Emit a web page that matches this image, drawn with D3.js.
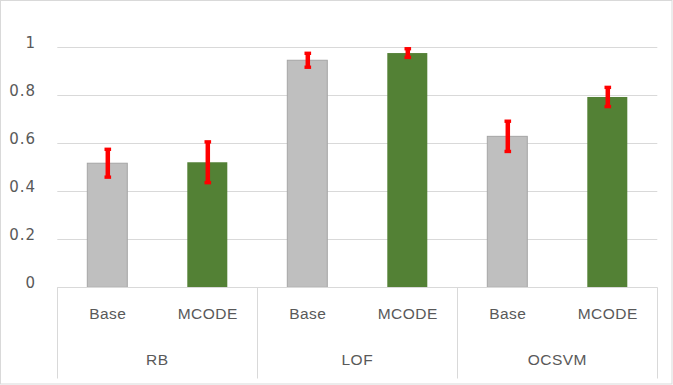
<!DOCTYPE html>
<html>
<head>
<meta charset="utf-8">
<script src="https://cdn.jsdelivr.net/npm/d3@7"></script>
<style>
  html, body { margin: 0; padding: 0; background: #fff; }
  svg { display: block; }
</style>
</head>
<body>
<svg id="chart" width="673" height="385"></svg>
<script>
// ---- data ----
const groups = ["RB", "LOF", "OCSVM"];
const methods = ["Base", "MCODE"];
const baseValues = [0.517, 0.946, 0.629];
const mcodeValues = [0.521, 0.976, 0.793];
const baseErrors = [0.058, 0.029, 0.063];
const mcodeErrors = [0.085, 0.018, 0.040];
const yTicks = [0, 0.2, 0.4, 0.6, 0.8, 1];
const yTickLabels = ["0", "0.2", "0.4", "0.6", "0.8", "1"];

const colors = { Base: "#bfbfbf", MCODE: "#538135" };
const strokes = { Base: "#a5a5a5", MCODE: "none" };

const rows = [];
groups.forEach((g, i) => {
  rows.push({ group: g, method: "Base", value: baseValues[i], err: baseErrors[i] });
  rows.push({ group: g, method: "MCODE", value: mcodeValues[i], err: mcodeErrors[i] });
});

(function () {
const svg = d3.select("#chart");
const pLeft = 57.3, pRight = 657.3, pTop = 47.3, pBottom = 287.3;

// outer border
svg.append("rect").attr("x", 0.5).attr("y", 0.5).attr("width", 671.5).attr("height", 383.5)
  .attr("fill", "#fff").attr("stroke", "#d9d9d9").attr("stroke-width", 1);

const y = d3.scaleLinear().domain([0, 1]).range([pBottom, pTop]);
const x0 = d3.scaleBand().domain(groups).range([pLeft, pRight]).padding(0);
const x1 = d3.scaleBand().domain(methods).range([0, x0.bandwidth()]).padding(0);
const barW = x1.bandwidth() * 0.4;

// gridlines
svg.append("g").selectAll("line").data(yTicks.filter(t => t > 0)).join("line")
  .attr("x1", pLeft).attr("x2", pRight)
  .attr("y1", d => Math.round(y(d)) + 0.5).attr("y2", d => Math.round(y(d)) + 0.5)
  .attr("stroke", "#d9d9d9").attr("stroke-width", 1);

// y labels
svg.append("g").selectAll("text").data(yTicks).join("text")
  .attr("x", 36).attr("y", d => y(d) + 0.5)
  .attr("text-anchor", "end")
  .attr("font-family", "'DejaVu Sans', sans-serif")
  .attr("font-size", 15).attr("letter-spacing", "1px")
  .attr("fill", "#595959")
  .text((d, i) => yTickLabels[i]);

// bars
svg.append("g").selectAll("rect").data(rows).join("rect")
  .attr("x", d => x0(d.group) + x1(d.method) + (x1.bandwidth() - barW) / 2)
  .attr("y", d => y(d.value))
  .attr("width", barW)
  .attr("height", d => y(0) - y(d.value))
  .attr("fill", d => colors[d.method])
  .attr("stroke", d => strokes[d.method])
  .attr("stroke-width", 1);

// category axis line + separators
svg.append("line").attr("x1", pLeft).attr("x2", pRight)
  .attr("y1", Math.round(pBottom) + 0.5).attr("y2", Math.round(pBottom) + 0.5)
  .attr("stroke", "#d9d9d9");
const seps = groups.map(g => x0(g)).concat([pRight]);
svg.append("g").selectAll("line").data(seps).join("line")
  .attr("x1", d => Math.round(d) + 0.5).attr("x2", d => Math.round(d) + 0.5)
  .attr("y1", pBottom).attr("y2", 378.5)
  .attr("stroke", "#d9d9d9");

// error bars
const gErr = svg.append("g");
rows.forEach(d => {
  const cx = x0(d.group) + x1(d.method) + x1.bandwidth() / 2 + 0.5;
  const ya = y(d.value + d.err), yb = y(d.value - d.err);
  gErr.append("line").attr("x1", cx).attr("x2", cx).attr("y1", ya).attr("y2", yb)
    .attr("stroke", "#ff0000").attr("stroke-width", 4.5);
  [ya, yb].forEach(yy => {
    gErr.append("rect").attr("x", cx - 3.3).attr("y", yy - 1.7)
      .attr("width", 6.6).attr("height", 3.4).attr("fill", "#ff0000");
  });
});

// method labels
const txt = svg.append("g")
  .attr("font-family", "'Liberation Sans', Arial, sans-serif")
  .attr("fill", "#595959");
txt.selectAll("text.m").data(rows).join("text").attr("class", "m")
  .attr("x", d => x0(d.group) + x1(d.method) + x1.bandwidth() / 2 + 0.5)
  .attr("y", 319.3)
  .attr("text-anchor", "middle")
  .attr("font-size", 15.5).attr("letter-spacing", "0.5px")
  .text(d => d.method);
// group labels
txt.selectAll("text.g").data(groups).join("text").attr("class", "g")
  .attr("x", d => x0(d) + x0.bandwidth() / 2)
  .attr("y", 365)
  .attr("text-anchor", "middle")
  .attr("font-size", 15.5).attr("letter-spacing", "0.5px")
  .text(d => d);
})();
</script>
</body>
</html>
